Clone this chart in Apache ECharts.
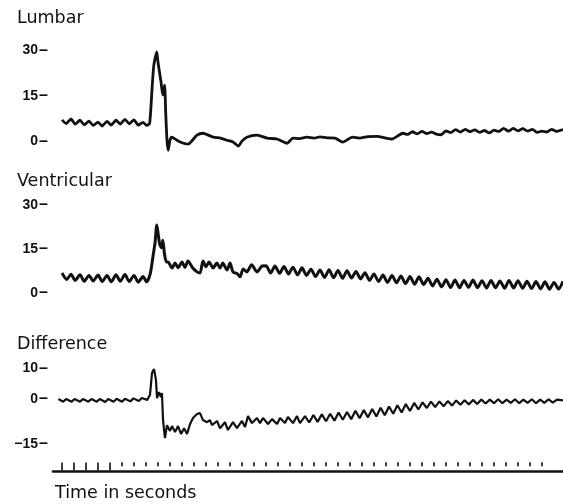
<!DOCTYPE html>
<html><head><meta charset="utf-8">
<script src="https://cdn.jsdelivr.net/npm/echarts@6/dist/echarts.min.js"></script>
<style>html,body{margin:0;padding:0;background:#fff}#c{width:563px;height:504px}</style>
</head><body><div id="c"></div>
<script>
// ---- data (time in seconds, pressure values) ----
const titles = ['Lumbar', 'Ventricular', 'Difference'];
const xAxisTitle = 'Time in seconds';
const lumbarTicks = [0, 15, 30];
const ventricularTicks = [0, 15, 30];
const differenceTicks = [-15, 0, 10];
const timeMarksMajor = [0, 1, 2, 3, 4];
const timeMarksMinor = [5,6,7,8,9,10,11,12,13,14,15,16,17,18,19,20,21,22,23,24,25,26,27,28,29,30,31,32,33,34,35,36,37,38,39,40];

const lumbar = [
 [0,7.0],[0.35,5.8],[0.75,7.3],[1.1,5.6],[1.5,6.9],[1.85,5.4],[2.25,6.6],[2.6,5.2],[3.0,6.3],[3.35,5.0],
 [3.75,6.5],[4.1,5.3],[4.5,6.9],[4.85,5.6],[5.25,7.2],[5.6,5.7],[6.0,7.0],[6.35,5.3],[6.75,6.2],[7.05,5.2],
 [7.3,5.8],[7.5,17],[7.65,25],[7.9,29.4],[8.0,26],[8.1,23.4],[8.25,19.5],[8.4,15.2],[8.55,18.5],[8.65,8.6],
 [8.75,0.3],[8.85,-3],[9.0,0.3],[9.15,1.3],[9.5,0.5],[9.85,-0.3],[10.5,-1],[11.25,2],[11.75,2.6],[12.6,1.3],
 [13.2,1.0],[13.75,0.3],[14.25,-0.3],[14.7,-1.6],[15.0,0],[15.4,1.3],[16.25,2.0],[17.1,1.0],[17.9,0.7],[18.75,-0.7],
 [19.25,1.0],[19.8,0.8],[20.4,1.3],[21.0,1.0],[21.5,1.4],[22.1,1.1],[22.75,1.0],[23.4,-0.3],[24.2,1.3],[24.8,1.0],
 [25.5,1.5],[26.25,1.6],[26.9,1.1],[27.5,0.7],[28.4,2.6],
 [28.8,2.2],[29.2,3.1],[29.6,2.4],[30.0,3.2],[30.4,2.5],[30.8,3.0],[31.2,2.3],[31.6,2.1],[32.0,3.4],[32.4,2.8],
 [32.8,3.8],[33.2,3.0],[33.6,3.9],[34.0,3.1],[34.4,3.7],[34.8,2.9],[35.2,3.5],[35.6,2.7],[36.0,3.6],[36.4,3.2],
 [36.8,4.2],[37.2,3.3],[37.6,4.2],[38.0,3.4],[38.4,4.1],[38.8,3.3],[39.2,3.9],[39.6,2.9],[40.0,3.3],[40.4,3.0],
 [40.8,3.9],[41.2,3.2],[41.75,3.8]
];

const ventricular = [
 [0,6.8],[0.4,4.6],[0.75,6.4],[1.1,4.3],[1.5,6.2],[1.85,4.0],[2.25,6.0],[2.6,4.1],[3.0,6.1],[3.35,3.9],
 [3.75,6.0],[4.1,3.8],[4.5,6.2],[4.85,4.0],[5.25,6.3],[5.6,3.9],[6.0,6.0],[6.35,3.7],[6.75,5.6],[7.05,3.8],
 [7.35,6.5],[7.6,13],[7.75,17],[7.9,23.2],[8.05,19],[8.15,16.5],[8.3,15.4],[8.4,18],[8.55,13],[8.7,10.6],
 [8.83,10.6],[9.17,8.5],[9.42,10.2],[9.67,8.6],[10.0,10.6],[10.25,8.7],[10.5,10.9],[10.9,8.5],[11.25,7.2],[11.5,6.8],
 [11.75,10.9],[12.0,8.9],[12.25,10.6],[12.6,8.5],[12.9,10.2],[13.17,8.5],[13.4,10.2],[13.75,7.8],[14.0,10.2],[14.25,7.2],
 [14.6,6.6],[14.83,5.5],[15.1,8.2],[15.4,7.2],[15.8,9.6],[16.25,7.2],[16.67,9.2],
 [17.0,9.3],[17.38,6.8],[17.75,9.2],[18.13,6.7],[18.5,9.0],[18.88,6.5],[19.25,8.8],[19.63,6.2],[20.0,8.6],[20.38,6.0],
 [20.75,8.1],[21.13,5.6],[21.5,7.8],[21.88,5.3],[22.25,7.9],[22.63,5.2],[23.0,7.7],[23.38,5.0],[23.75,7.6],[24.13,5.1],
 [24.5,7.3],[24.88,4.8],[25.25,6.9],[25.63,4.3],[26.0,6.5],[26.38,3.9],[26.75,6.1],[27.13,3.6],[27.5,6.0],[27.88,3.5],
 [28.25,5.8],[28.63,3.2],[29.0,5.6],[29.38,3.0],[29.75,5.5],[30.13,2.9],[30.5,5.0],[30.88,2.4],[31.25,4.7],[31.63,2.1],
 [32.0,4.5],[32.38,1.9],[32.75,4.4],[33.13,1.8],[33.5,4.3],[33.88,1.9],[34.25,4.4],[34.63,1.8],[35.0,4.2],[35.38,1.7],
 [35.75,4.3],[36.13,1.8],[36.5,4.1],[36.88,1.6],[37.25,4.3],[37.63,1.7],[38.0,4.2],[38.38,1.6],[38.75,4.0],[39.13,1.5],
 [39.5,3.9],[39.88,1.4],[40.25,3.8],[40.63,1.3],[41.0,3.6],[41.38,1.4],[41.75,4.0]
];

const difference = [
 [-0.3,-0.1],[0.1,-1.0],[0.35,-0.1],[0.8,-1.0],[1.05,-0.1],[1.5,-1.0],[1.75,-0.1],[2.2,-1.0],[2.45,-0.1],[2.9,-1.0],
 [3.15,-0.1],[3.6,-1.1],[3.85,-0.1],[4.3,-1.0],[4.55,0.0],[5.0,-1.0],[5.25,0.0],[5.7,-0.9],[5.95,0.1],[6.4,-0.8],
 [6.65,0.2],[7.1,-0.4],[7.33,1.2],[7.5,8.5],[7.67,9.8],[7.83,6.2],[7.92,0.2],[8.08,2.2],[8.25,0.5],[8.33,1.9],
 [8.42,-7.1],[8.58,-13.1],[8.75,-8.8],[9.0,-10.7],[9.17,-9.1],[9.42,-11.1],[9.67,-9.1],[9.92,-11.7],[10.17,-9.8],[10.42,-11.7],
 [10.67,-8.4],[10.92,-6.4],[11.25,-5.1],[11.5,-4.8],[11.75,-7.1],[12.08,-7.8],[12.33,-7.1],[12.5,-8.8],[12.92,-7.4],[13.17,-9.8],
 [13.58,-7.8],[13.83,-10.4],[14.25,-7.8],[14.58,-9.8],[15.0,-7.4],[15.25,-9.4],[15.5,-5.8],[15.83,-8.1],[16.25,-6.4],[16.5,-8.1],
 [16.75,-6.4],[17.17,-8.4],[17.5,-6.8],[17.92,-8.4],[18.17,-6.4],[18.58,-8.1],[18.83,-6.1],[19.25,-8.1],[19.58,-5.8],[19.83,-8.1],
 [20.25,-5.8],[20.6,-7.9],[20.95,-5.4],[21.3,-7.7],[21.65,-5.2],[22.0,-7.5],[22.35,-5.0],[22.7,-7.3],[23.05,-4.6],[23.4,-7.0],
 [23.75,-4.4],[24.1,-6.8],[24.45,-4.0],[24.8,-6.5],[25.15,-3.8],[25.5,-6.2],[25.85,-3.4],[26.2,-5.9],[26.55,-3.0],[26.9,-5.5],
 [27.25,-2.6],[27.6,-5.0],[27.95,-2.2],[28.3,-4.6],[28.65,-1.8],[29.0,-4.1],[29.35,-1.4],[29.7,-3.6],[30.05,-1.2],[30.4,-3.1],
 [30.75,-1.0],[31.1,-2.8],[31.45,-0.9],[31.8,-2.5],[32.15,-0.8],[32.5,-2.3],[32.85,-0.6],[33.2,-2.0],[33.55,-0.5],[33.9,-1.9],
 [34.25,-0.4],[34.6,-1.8],[34.95,-0.3],[35.3,-1.6],[35.65,-0.3],[36.0,-1.5],[36.35,-0.2],[36.7,-1.5],[37.05,-0.3],[37.4,-1.4],
 [37.75,-0.2],[38.1,-1.5],[38.45,-0.3],[38.8,-1.4],[39.15,-0.2],[39.5,-1.5],[39.85,-0.3],[40.2,-1.4],[40.55,-0.2],[40.9,-1.3],
 [41.25,-0.3],[41.75,-0.6]
];

// ---- chart ----
const X_MIN = -0.75, X_MAX = 41.75;
const ink = '#111';
const titleFont = { fontFamily: 'DejaVu Sans', fontWeight: 'normal', fontSize: 17.5, color: ink };
const fmt = v => '{n|' + (v < 0 ? '\u2212' + Math.abs(v) : String(v)) + '}{d|\u2013}';
const labelRich = {
  n: { fontFamily: 'Liberation Sans', fontWeight: 'bold', fontSize: 14, color: ink, padding: [0, 1, 0, 0] },
  d: { fontFamily: 'Liberation Sans', fontWeight: 'bold', fontSize: 16, color: ink }
};

function xAx(gi, show) {
  return { type: 'value', gridIndex: gi, min: X_MIN, max: X_MAX, show: show,
    axisLine: { show: show, lineStyle: { color: ink, width: 2.5 } },
    axisTick: { show: false }, axisLabel: { show: false }, splitLine: { show: false } };
}
function yAx(gi, min, max, ticks) {
  return { type: 'value', gridIndex: gi, min: min, max: max,
    axisLine: { show: false }, splitLine: { show: false }, axisTick: { show: false },
    axisLabel: { show: true, margin: 5, customValues: ticks, formatter: fmt, rich: labelRich } };
}
function trace(gi, data, w, sm) {
  return { type: 'line', xAxisIndex: gi, yAxisIndex: gi, data: data, showSymbol: false, smooth: sm,
    lineStyle: { color: ink, width: w }, silent: true };
}

const option = {
  animation: false,
  backgroundColor: '#fff',
  title: [
    { text: titles[0], left: 17, top: 9, padding: 0, textStyle: titleFont },
    { text: titles[1], left: 17, top: 172, padding: 0, textStyle: titleFont },
    { text: titles[2], left: 17, top: 335, padding: 0, textStyle: titleFont },
    { text: xAxisTitle, left: 55, top: 484, padding: 0, textStyle: titleFont }
  ],
  grid: [
    { left: 53, right: 0, top: 35, height: 121.3 },
    { left: 53, right: 0, top: 196.2, height: 105.6 },
    { left: 53, right: 0, top: 362.5, height: 84.4 },
    { left: 53, right: 0, top: 455, height: 16 }
  ],
  xAxis: [xAx(0, false), xAx(1, false), xAx(2, false), xAx(3, true)],
  yAxis: [
    yAx(0, -5, 35, lumbarTicks),
    yAx(1, -3, 33, ventricularTicks),
    yAx(2, -16, 12, differenceTicks),
    { type: 'value', gridIndex: 3, min: 0, max: 1, show: false }
  ],
  series: [
    trace(0, lumbar, 2.8, 0.2),
    trace(1, ventricular, 3, 0.25),
    trace(2, difference, 2.2, false),
    { type: 'scatter', xAxisIndex: 3, yAxisIndex: 3, data: timeMarksMajor.map(t => [t, 0.28]),
      symbol: 'rect', symbolSize: [2, 8], itemStyle: { color: ink }, silent: true },
    { type: 'scatter', xAxisIndex: 3, yAxisIndex: 3, data: timeMarksMinor.map(t => [t, 0.42]),
      symbol: 'rect', symbolSize: [2, 4], itemStyle: { color: ink }, silent: true }
  ]
};
echarts.init(document.getElementById('c'), null, { renderer: 'canvas' }).setOption(option);
</script></body></html>
